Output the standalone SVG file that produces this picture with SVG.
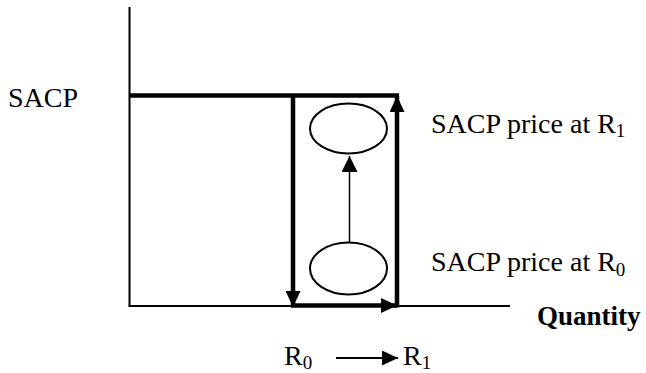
<svg xmlns="http://www.w3.org/2000/svg" width="646" height="373" viewBox="0 0 646 373">
<style>
text{font-family:'Liberation Serif',Tinos,'Times New Roman','DejaVu Serif',serif;font-size:28px;fill:#000}
.b{font-weight:bold;font-size:27px}
.sub{font-size:19px}
.axis{stroke:#000;stroke-width:2;fill:none}
.thick{stroke:#000;stroke-width:4.5;fill:none}
.thin{stroke:#000;stroke-width:1.5;fill:none}
.ell{fill:#fff;stroke:#000;stroke-width:2}
</style>
<defs>
<marker id="ah" viewBox="0 0 16 15" refX="16" refY="7.5" markerWidth="16" markerHeight="15" markerUnits="userSpaceOnUse" orient="auto"><path d="M0,0L16,7.5L0,15Z" fill="#000"/></marker>
<marker id="ahs" viewBox="0 0 16 16" refX="16" refY="8" markerWidth="16" markerHeight="16" markerUnits="userSpaceOnUse" orient="auto"><path d="M0,0L16,8L0,16Z" fill="#000"/></marker>
<marker id="ahm" viewBox="0 0 16 15" refX="16" refY="7.5" markerWidth="16" markerHeight="15" markerUnits="userSpaceOnUse" orient="auto"><path d="M0,0L16,7.5L0,15Z" fill="#000"/></marker>
</defs>
<g id="axes">
<line class="axis" x1="129.5" y1="7" x2="129.5" y2="306"/>
<line class="axis" x1="128.5" y1="306" x2="510" y2="306"/>
</g>
<g id="ellipse-r1"><ellipse class="ell" cx="348.5" cy="128.5" rx="38.5" ry="25"/></g>
<g id="ellipse-r0"><ellipse class="ell" cx="348.5" cy="268.5" rx="38.5" ry="26"/></g>
<g id="connectors">
<line class="thick" x1="130" y1="95.5" x2="399" y2="95.5"/>
<line class="thick" x1="293" y1="95.5" x2="293" y2="307" marker-end="url(#ah)"/>
<line class="thick" x1="291" y1="305.5" x2="397" y2="305.5" marker-end="url(#ah)"/>
<line class="thick" x1="397" y1="307.5" x2="397" y2="96" marker-end="url(#ah)"/>
<line class="thin" x1="349.5" y1="242.5" x2="349.5" y2="156" marker-end="url(#ahs)"/>
<line stroke="#000" stroke-width="2" x1="336" y1="358" x2="398" y2="358" marker-end="url(#ahm)"/>
</g>
<g id="labels">
<text x="8" y="107">SACP</text>
<text x="431" y="133">SACP price at R<tspan class="sub" dy="4">1</tspan></text>
<text x="431" y="271">SACP price at R<tspan class="sub" dy="5">0</tspan></text>
<text class="b" x="537" y="325">Quantity</text>
<text x="284" y="365">R<tspan class="sub" dy="4">0</tspan></text>
<text x="403" y="365">R<tspan class="sub" dy="4">1</tspan></text>
</g>
</svg>
